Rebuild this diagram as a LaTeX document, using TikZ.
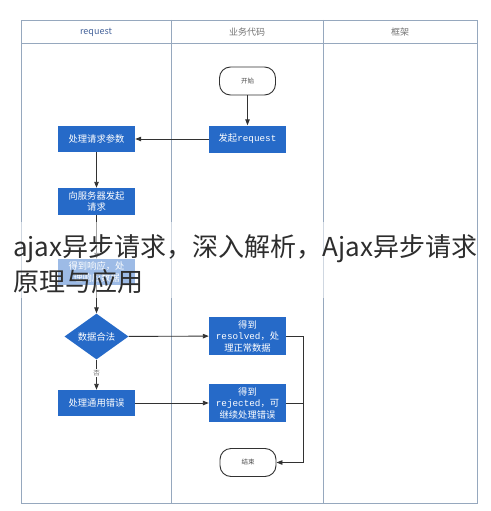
\documentclass[tikz,border=0pt]{standalone}
\usepackage{fontspec}
\setmainfont{Noto Sans CJK SC}
\setmonofont{Liberation Mono}
\usetikzlibrary{shapes.geometric,arrows.meta}
\definecolor{boxblue}{RGB}{38,106,200}
\definecolor{frame}{RGB}{150,168,190}
\definecolor{hdr}{RGB}{70,100,155}
\definecolor{lnk}{RGB}{50,50,50}
\definecolor{ovl}{RGB}{45,45,45}
\tikzset{
  bluebox/.style={draw=none,fill=boxblue,text=white,minimum width=77pt,minimum height=27pt,inner sep=1pt,align=center,font=\fontsize{9.3}{11.5}\selectfont},
  termbox/.style={draw=lnk,line width=0.9pt,rounded corners=11pt,minimum width=56pt,minimum height=28pt,font=\fontsize{6.5}{8}\selectfont,text=black!70},
  decision/.style={diamond,fill=boxblue,text=white,minimum width=64pt,minimum height=43pt,inner sep=0pt,font=\fontsize{9.3}{11}\selectfont},
  link/.style={draw=lnk,line width=0.9pt,-{Triangle[length=6pt,width=4.5pt]}},
  plainlink/.style={draw=lnk,line width=0.9pt},
  lane/.style={draw=frame,line width=0.7pt},
  hdrtext/.style={font=\fontsize{9}{11}\selectfont,text=hdr},
  overlay/.style={anchor=base west,inner sep=0pt,font=\fontsize{26}{30}\selectfont,text=ovl},
}
\begin{document}
\begin{tikzpicture}[x=1pt,y=-1pt]
\useasboundingbox (0,0) rectangle (490,511);
\fill[white] (0,0) rectangle (490,511);
% lanes
\draw[lane] (21,20) rectangle (477,503);
\draw[lane] (21,43) -- (477,43);
\draw[lane] (171,20) -- (171,503);
\draw[lane] (323,20) -- (323,503);
\node[hdrtext] (h1) at (96,32) {request};
\node[hdrtext,text=black!55] (h2) at (247,32) {业务代码};
\node[hdrtext,text=black!55] (h3) at (400,32) {框架};
% nodes
\node[termbox] (start) at (247.5,81) {开始};
\node[bluebox] (send) at (247.5,139) {发起\texttt{request}};
\node[bluebox,minimum height=26pt] (param) at (96.5,139) {处理请求参数};
\node[bluebox] (server) at (96.5,201.5) {向服务器发起\\请求};
\node[bluebox,minimum height=26pt] (resp) at (96.5,272) {得到响应，处\\理响应数据};
\node[decision] (valid) at (96.5,336.5) {数据合法};
\node[bluebox,minimum height=38pt] (ok) at (247.5,336) {得到\\\texttt{resolved}，处\\理正常数据};
\node[bluebox,minimum height=26pt] (err) at (96.5,403) {处理通用错误};
\node[bluebox,minimum height=38pt] (rej) at (247.5,403) {得到\\\texttt{rejected}，可\\继续处理错误};
\node[termbox] (end) at (248,462.5) {结束};
\coordinate (j1) at (303,336);
\coordinate (j2) at (303,403);
\coordinate (j3) at (303,462.5);
% connectors
\draw[link] (start) -- (send);
\draw[link] (send) -- (param);
\draw[link] (param) -- (server);
\draw[link] (server) -- (resp);
\draw[link] (resp) -- (valid);
\draw[link] (valid) -- (ok);
\draw[link] (valid) -- node[fill=white,inner sep=1pt,font=\fontsize{6.5}{8}\selectfont,text=black!60,pos=0.45]{否} (err);
\draw[link] (err) -- (rej);
\draw[plainlink] (ok.east) -- (j1) -- (j3);
\draw[plainlink] (rej.east) -- (j2);
\draw[link] (j3) -- (end);
% overlay
\fill[white,opacity=0.55] (21,222) rectangle (477,298);
\node[overlay] (t1) at (13,256) {ajax异步请求，深入解析，Ajax异步请求};
\node[overlay] (t2) at (13,291) {原理与应用};
\end{tikzpicture}
\end{document}
